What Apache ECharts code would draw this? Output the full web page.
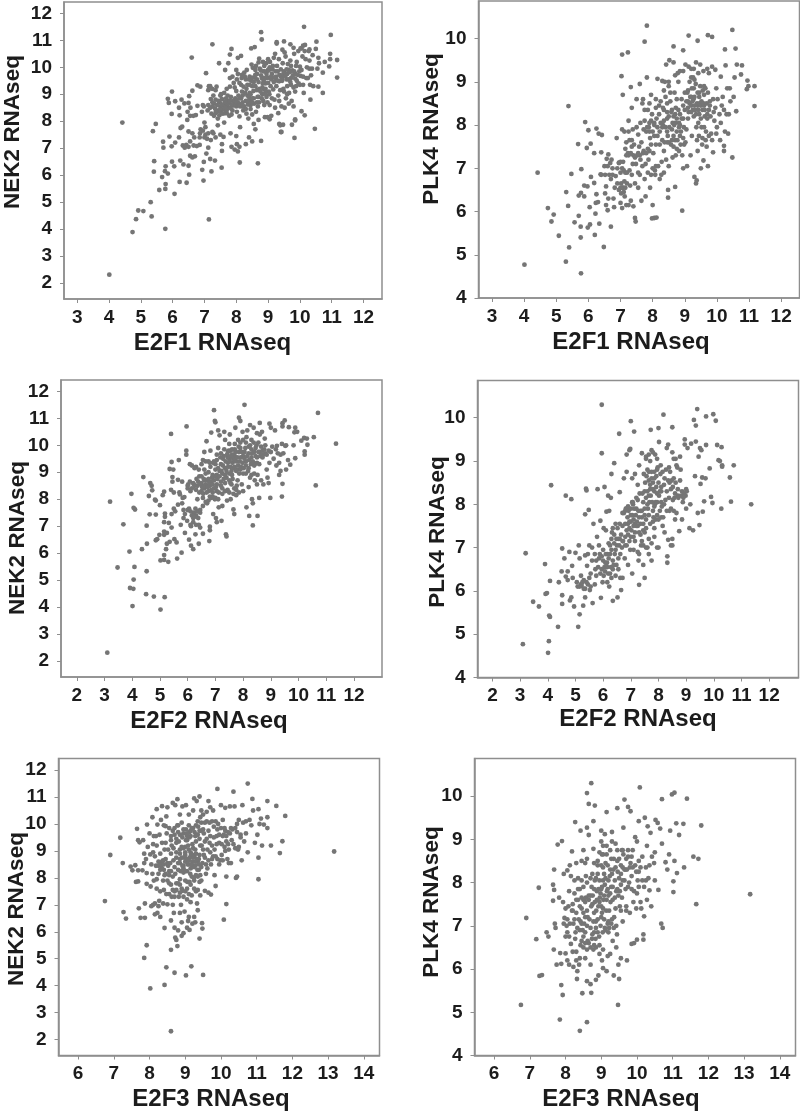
<!DOCTYPE html>
<html><head><meta charset="utf-8"><style>html,body{margin:0;padding:0;background:#fff}#c{width:800px;height:1113px}</style>
<script src="https://cdn.jsdelivr.net/npm/echarts@6/dist/echarts.min.js"></script></head><body><div id="c"></div>
<script>
const e2f1Nek2=[[4.01,2.31],[4.42,7.95],[4.74,3.89],[4.85,4.37],[4.92,4.69],[5.08,4.67],[5.34,4.47],[5.31,5],[5.77,4.01],[7.14,4.36],[5.58,5.45],[5.77,5.49],[5.78,5.67],[6.06,5.31],[5.38,7.63],[5.47,7.9],[5.42,6.52],[5.41,6.13],[5.67,5.93],[5.76,6.15],[5.85,6.06],[5.78,6.33],[5.98,6.5],[6.05,6.33],[6.22,5.75],[6.44,5.72],[6.52,6.02],[6.24,6.54],[6.34,6.4],[6.5,6.35],[6.93,6.2],[6.97,5.8],[7.22,6.14],[6.98,6.49],[7.54,6.28],[7.33,6.54],[7.18,6.6],[8.11,6.47],[8.68,6.44],[5.7,7.24],[5.71,7.02],[5.9,7.43],[5.97,7.07],[6.08,7.21],[5.85,8.83],[5.88,8.68],[5.98,9.1],[5.97,8.27],[6.08,8.74],[6.2,7.4],[6.2,8.5],[6.28,8.8],[6.37,8.66],[6.22,8.22],[6.25,7.75],[6.3,7.8],[6.32,7.1],[6.38,7.02],[6.43,7.12],[6.5,7.05],[6.46,8.05],[6.47,8.35],[6.5,8.68],[6.52,8.93],[6.56,8.5],[6.55,8.2],[6.5,7.62],[6.55,7.25],[6.55,6.72],[6.62,6.66],[6.7,6.7],[6.66,7.1],[6.62,7.55],[6.68,7.4],[6.65,8.2],[6.73,8.23],[6.78,8.57],[6.76,7.08],[6.85,7.12],[6.86,7.55],[6.88,7.7],[6.92,8.35],[6.95,8.6],[6.98,8.55],[7,7.95],[7.03,7.78],[7.03,7.5],[7.08,7.35],[7.12,7.02],[7.06,6.8],[7.12,9.15],[7.14,9.3],[7.18,9.3],[7.24,9.2],[7.12,8.6],[7.18,8.5],[7.22,8.28],[7.25,7.6],[7.28,7.55],[7.3,8.65],[7.35,8.8],[7.35,9.15],[7.38,9.28],[7.42,8.1],[7.42,7.85],[7.45,8.4],[7.48,8.7],[7.5,8.95],[7.52,9],[7.55,6.9],[7.55,7.15],[7.6,7.42],[7.62,7.95],[7.65,8.3],[7.66,8.6],[7.7,9.2],[7.75,8.75],[7.75,8.5],[7.78,8.2],[7.8,9.6],[7.82,7.55],[7.85,7.05],[7.95,6.95],[8,7.45],[8.02,7.15],[8.05,6.88],[8.1,7.05],[7.88,8.4],[7.9,8.75],[7.95,9.25],[8,8.55],[8.02,9.55],[8.05,8.62],[8.1,8.18],[8.12,7.78],[8.15,9.35],[8.18,9.1],[8.2,8.7],[8.22,8.4],[8.25,9.8],[8.3,7.15],[8.35,8.95],[8.38,8.1],[8.4,7.4],[8.42,9.65],[8.45,8.6],[8.5,9.3],[8.5,8.25],[8.5,7.25],[8.55,8.85],[8.6,9.9],[8.6,7.7],[8.62,10.05],[8.65,9.15],[8.68,8.55],[8.7,8.05],[8.72,10.32],[8.78,7.27],[8.8,9.6],[8.82,9],[8.85,8.75],[8.88,10.05],[8.9,8.15],[8.92,9.4],[8.95,8.9],[9,10.3],[9,9.9],[9.02,9.1],[9.05,8.6],[9.1,8.2],[9.12,9.75],[9.15,10.05],[9.18,9.45],[9.2,8.8],[9.22,10.5],[9.25,9.55],[9.3,9.85],[9.32,8.3],[9.35,8.75],[9.38,7.85],[9.4,9.65],[9.4,7.6],[9.45,10.65],[9.48,9.2],[9.5,9.85],[9.52,8.5],[9.55,10.4],[9.58,9.55],[9.6,9],[9.65,9.9],[9.65,8.65],[9.7,10.25],[9.72,9.35],[9.78,9.7],[9.8,8.55],[9.82,10.5],[9.85,9.1],[9.88,10.05],[9.9,9.5],[9.95,10.6],[9.98,9.85],[10,9.35],[10.05,10.7],[10.1,9.35],[10.12,9.05],[10.18,10.3],[10.2,9.6],[10.22,10],[10.28,10.6],[10.3,9.95],[10.35,9.7],[10.38,9.95],[10.4,10.45],[6.6,10.36],[7.25,10.85],[7.05,9.78],[6.62,9.13],[6.78,9.33],[6.87,9.28],[7.46,10.15],[7.85,10.68],[7.8,10.47],[7.75,10.15],[8.05,10.35],[8.15,10.42],[8,9.9],[7.65,9.9],[8.78,11.3],[8.8,11.03],[8.47,10.7],[8.58,10.75],[9.27,10.88],[9.27,10.93],[9.5,10.96],[9.7,10.85],[9.8,10.72],[10.02,10.7],[10.1,10.8],[10.13,11.5],[10.16,10.83],[10.52,10.95],[10.97,11.2],[10.5,10.68],[10.3,10.66],[10.95,10.5],[10.58,10.35],[10.6,10.15],[10.78,10.2],[10.95,10.3],[11.17,10.27],[10.92,10.03],[10.72,9.8],[10.55,9.95],[11.17,9.62],[10.42,9.3],[10.58,9.28],[10.72,9.05],[10.33,8.8],[10.47,7.72],[10.05,8.37],[10.15,8.22],[9.83,7.38],[9.75,7.87],[9.85,8.07],[9.85,8.03],[9.47,7.87],[9.35,7.9],[9.42,7.6],[9.05,8.07],[8.98,8.15],[8.55,7.9],[7.3,8.2],[7.4,8.35],[7.5,8.55],[7.6,8.62],[7.72,8.62],[7.82,8.48],[7.95,8.62],[8.05,8.7],[8.15,8.85],[8.32,9.2],[8.42,9.35],[8.55,9.45],[8.65,9.55],[8.72,9.2],[8.85,9.2],[8.92,9.08],[9.02,9.62],[9.1,9.55],[9.25,9.65],[9.35,9.48],[9.45,9.6],[9.6,9.75],[9.72,9.6],[9.85,9.75],[8.85,9.85],[8.95,9.75],[9.05,10],[7.25,8.7],[7.4,8.6],[7.6,8.45],[7.7,8.3],[8.3,8.75],[8.45,8.75],[8.7,8.9],[8.3,8.45],[8.45,9]];
const e2f1Nek2Core=[[7.1,8.4],[7.2,8.82],[7.28,8.95],[7.33,8.48],[7.36,8.38],[7.44,8.75],[7.47,8.22],[7.52,8.35],[7.55,8.82],[7.58,8.28],[7.62,9.05],[7.64,8.72],[7.68,8.85],[7.7,8.42],[7.73,8.95],[7.78,8.68],[7.8,9.28],[7.83,8.9],[7.85,8.25],[7.88,9.65],[7.9,8.58],[7.92,9.42],[7.97,8.85],[8,9.12],[8.02,8.35],[8.05,9.75],[8.07,8.95],[8.1,9.42],[8.12,8.55],[8.15,8.62],[8.18,9.72],[8.2,8.95],[8.23,9.28],[8.25,8.55],[8.28,9.05],[8.3,9.55],[8.32,8.28],[8.35,9.35],[8.37,8.62],[8.4,8.9],[8.42,9.05],[8.45,8.45],[8.47,9.5],[8.5,8.85],[8.52,9.98],[8.54,9.12],[8.56,8.65],[8.58,9.62],[8.6,9.3],[8.62,8.35],[8.65,9.75],[8.67,8.9],[8.7,9.45],[8.72,8.7],[8.74,9.95],[8.76,9.1],[8.78,9.7],[8.8,8.85],[8.82,9.25],[8.84,10.2],[8.86,9.5],[8.88,8.6],[8.9,9.85],[8.92,9.2],[8.94,10.15],[8.96,9.6],[8.98,8.7],[9,9.42],[9.02,9.88],[9.04,9],[9.06,10.2],[9.08,9.3],[9.1,9.65],[9.12,8.85],[9.14,9.92],[9.16,9.18],[9.18,10.35],[9.2,9.62],[9.22,8.5],[9.24,9.85],[9.26,9.3],[9.28,10.05],[9.3,9.5],[9.32,8.95],[9.34,10.3],[9.36,9.72],[9.38,9.15],[9.4,9.92],[9.42,8.55],[9.44,9.5],[9.46,10.15],[9.48,9.75],[9.5,9.1],[9.52,10.55],[9.54,9.68],[9.56,8.85],[9.58,9.92],[9.6,9.3],[9.62,10.12],[9.64,9.55],[9.66,9.05],[9.68,9.82],[9.7,9.45],[9.72,10.05],[9.74,8.75],[9.76,9.88],[9.8,9.25],[9.82,9.85],[9.85,9.58],[9.88,9.3],[9.9,10.2],[9.93,9.72],[9.96,9.4],[10,10.02],[10.02,9.68],[10.05,9.9],[10.08,10.4],[10.1,9.65],[10.15,10.6],[10.25,9.6],[10.3,10.25],[10.32,9.35],[8.1,8.85],[8.17,9.6],[8.27,9.65],[8.33,9.9],[8.4,9.55],[8.48,10.1],[8.52,9.62],[8.6,9.72],[8.7,10.18],[8.77,9.88],[8.83,9.4],[8.88,9.6],[8.9,9.02],[7.25,8.55],[7.35,8.3],[7.5,8.45],[7.55,8.6],[7.65,8.5],[7.8,8.75],[7.85,8.6],[8,8.75],[8.2,8.55],[8.35,8.75],[8.5,8.7],[8.65,8.7],[7.2,7.3],[7.35,7.4],[7.5,7.5],[7,7.4],[6.85,7.4],[6.95,7.65],[7.12,7.55]];
const e2f1Plk4=[[4.01,4.77],[4.42,6.9],[4.74,6.08],[4.85,5.77],[4.92,5.93],[5.08,5.44],[5.3,4.84],[5.31,6.45],[5.38,8.44],[5.37,6.13],[5.4,5.17],[5.47,6.87],[5.57,5.75],[5.68,7.56],[5.7,6.37],[5.7,5.9],[5.77,4.57],[5.76,5.4],[5.76,5.65],[5.77,6.43],[5.78,6.98],[5.87,6.35],[5.87,6.6],[5.9,8.07],[5.95,7.47],[5.97,6.58],[5.98,5.63],[6,7.88],[6.04,6.1],[6.05,5.7],[6.07,7.57],[6.08,6.8],[6.18,7.35],[6.18,6.66],[6.2,5.46],[6.22,5.95],[6.23,6.2],[6.25,7.92],[6.25,6.4],[6.3,6.22],[6.32,7.8],[6.34,5.72],[6.38,6.86],[6.42,7.77],[6.4,7.37],[6.48,5.18],[6.52,6.85],[6.52,6.42],[6.55,6.58],[6.55,6.15],[6.57,7.22],[6.6,6.03],[6.62,7.32],[6.62,6.3],[6.65,6.85],[6.7,5.65],[6.7,6.75],[6.72,7.2],[6.75,7],[6.78,6.3],[6.8,6.1],[6.82,6.55],[6.88,7.7],[6.95,7.13],[6.95,6.5],[7,6.9],[7,6.2],[7.02,6.65],[7.05,9.63],[7.03,9.13],[7.07,8.7],[7.05,6.08],[7.05,7.9],[7.08,6.55],[7.1,6.45],[7.12,6.7],[7.12,7.85],[7.15,6.9],[7.18,7.6],[7.18,6.15],[7.23,9.68],[7.23,7.35],[7.25,7.85],[7.25,8.1],[7.28,6.95],[7.3,6.6],[7.32,6.25],[7.32,8.88],[7.35,8.4],[7.35,7.5],[7.38,7.1],[7.4,6.12],[7.45,7.25],[7.45,5.85],[7.47,5.77],[7.5,8.6],[7.5,7.95],[7.55,6.9],[7.55,6.55],[7.58,7.5],[7.6,8.95],[7.62,7.2],[7.65,6.25],[7.68,8.5],[7.7,8.6],[7.7,7.35],[7.72,7.9],[7.75,9.93],[7.75,6.75],[7.78,7.1],[7.82,10.3],[7.82,9.1],[7.85,6.9],[7.85,8.35],[7.88,7.95],[7.9,7.4],[7.92,6.55],[7.95,8.7],[7.95,8.1],[7.95,7.55],[7.98,5.84],[8,6.15],[8,7],[8.05,5.85],[8.05,7.75],[8.08,6.85],[8.1,8.4],[8.1,7.05],[8.12,5.86],[8.15,9.07],[8.2,8.25],[8.22,6.75],[8.22,7.85],[8.25,8.55],[8.28,7.15],[8.3,9.02],[8.32,8],[8.35,6.9],[8.35,7.4],[8.38,9],[8.4,8.65],[8.42,9.4],[8.45,7.85],[8.45,8.15],[8.48,6.5],[8.48,6.32],[8.5,7.05],[8.5,8.9],[8.5,7.6],[8.52,9.5],[8.58,8.3],[8.6,7.9],[8.62,7.25],[8.65,9.45],[8.65,9.82],[8.68,8.75],[8.7,6.57],[8.7,7.65],[8.72,8.4],[8.75,7.45],[8.78,9.2],[8.8,9],[8.82,8.05],[8.85,7.75],[8.9,8.6],[8.92,6.02],[8.95,9.73],[8.95,7],[8.98,7.55],[9,8.35],[9.02,9.4],[9.05,7.9],[9.08,8.75],[9.12,10.07],[9.1,8.15],[9.15,8.5],[9.18,7.3],[9.2,9.1],[9.22,7.75],[9.25,8.35],[9.27,8.6],[9.3,6.8],[9.35,6.65],[9.35,9.45],[9.37,6.72],[9.38,7.65],[9.4,9.95],[9.4,8.45],[9.42,8.05],[9.45,8.75],[9.48,9.4],[9.5,7],[9.52,7.95],[9.55,8.35],[9.58,7.18],[9.6,8.9],[9.62,8.2],[9.68,7.5],[9.7,9.3],[9.72,10.08],[9.72,7.05],[9.78,8.55],[9.82,7.8],[9.85,10.04],[9.85,9.35],[9.88,7.37],[9.9,8.3],[9.95,9.28],[9.98,8.85],[10,7.95],[10.1,7.65],[10.12,9.12],[10.15,8.45],[10.22,7.4],[10.22,7.52],[10.25,9.75],[10.27,9.38],[10.3,8.25],[10.35,7.8],[10.4,8.85],[10.42,8.55],[10.48,7.25],[10.48,10.2],[10.52,8.65],[10.55,9.1],[10.58,9.77],[10.6,8.32],[10.62,9.4],[10.75,9.17],[10.78,9.38],[10.95,9.03],[10.93,8.83],[10.98,8.9],[11.17,8.9],[11.17,8.44],[8.35,8.35],[8.45,8.3],[8.55,8.55],[8.65,8.2],[8.75,8.15],[8.82,7.95],[8.88,7.85],[8.95,7.7],[8.3,7.95],[8.15,7.95],[8.05,8.05],[7.9,7.85],[7.8,7.85],[8.6,7.65],[8.75,7.85],[9.1,8.4],[9.2,8.45],[9.3,8.45],[9.35,8.25],[9.45,8.25],[9.5,8.45],[9.6,8.45],[9.7,8.25],[9.75,8.35],[9.28,8.85],[9.3,9.05],[9.2,8.65],[9.45,8.65],[9.6,8.7],[9.1,8.55],[9.55,7.7],[9.65,7.65],[9.4,7.4],[8.85,8.25],[8.95,8.15],[8.7,8.05],[8.45,7.6],[7.25,7.3],[7.4,7.3],[7.6,7.3],[7.55,7.35],[7.05,6.55],[7.15,6.55],[7.2,6.65],[7.05,7.0],[7.85,7.45],[8.65,7.75]];
const e2f1Plk4Core=[[6.4,6.85],[6.5,7.05],[6.6,7.05],[6.68,7.12],[6.75,6.85],[6.85,6.82],[6.9,6.65],[6.95,7.12],[7,6.55],[7.02,6.42],[7.08,7.15],[7.1,6.95],[7.13,6.35],[7.18,7.3],[7.2,6.9],[7.25,6.15],[7.28,7.65],[7.32,7.35],[7.35,6.85],[7.38,7.9],[7.42,7.55],[7.45,6.65],[7.48,7.1],[7.52,7.3],[7.55,7.78],[7.6,6.85],[7.62,8.05],[7.65,7.6],[7.68,7.05],[7.72,7.4],[7.75,8.1],[7.78,6.35],[7.8,7.35],[7.83,7.95],[7.87,7.2],[7.9,8.05],[7.92,7.7],[7.95,6.85],[7.98,8.25],[8,7.85],[8.02,7.35],[8.05,8],[8.07,6.95],[8.1,7.55],[8.12,8.15],[8.15,7.75],[8.17,7.05],[8.2,8.45],[8.22,7.55],[8.25,8.05],[8.27,6.85],[8.3,7.65],[8.32,8.4],[8.35,8.1],[8.37,7.6],[8.4,7.95],[8.42,7.2],[8.45,8.5],[8.47,7.75],[8.5,8.2],[8.52,7.95],[8.55,8.75],[8.57,7.55],[8.6,8.35],[8.62,8.05],[8.65,7.5],[8.67,8],[8.7,8.25],[8.72,7.3],[8.75,8.6],[8.77,7.65],[8.8,8.35],[8.82,7.4],[8.85,8],[8.87,7.55],[8.9,8.15],[8.92,7.3],[8.95,8.45],[8.97,7.95],[9,8.75],[9.02,7.6],[9.05,8.55],[9.07,7.05],[9.1,8.8],[9.12,8.3],[9.15,9],[9.17,8.65],[9.2,8.3],[9.22,8.85],[9.24,8.55],[9.26,9.1],[9.28,8.2],[9.3,8.65],[9.32,8.35],[9.34,8.95],[9.36,7.95],[9.38,8.5],[9.4,8.75],[9.42,8.35],[9.44,7.75],[9.46,8.5],[9.48,8.9],[9.5,8.15],[9.52,8.55],[9.54,7.55],[9.56,8.8],[9.58,8.5],[9.6,7.95],[9.62,8.35],[9.64,8.85],[9.66,7.85],[9.68,8.5],[9.7,8.15],[9.72,8.75],[9.75,7.75],[9.78,8.45],[9.8,8.2],[9.85,7.65],[9.88,8.6],[9.92,8.1],[9.95,8.4],[9.98,7.8],[10.02,8.6],[10.08,8.25],[10.12,8.05],[10.18,8.65],[10.22,8.35],[10.25,7.85],[10.32,8.85],[10.37,8.25],[9.12,9.35],[9.2,9.3],[9.28,9.3],[9.42,9.2],[9.58,9.25],[9.75,9.2],[8.95,9.25],[8.85,9.25],[8.7,9.15],[8.5,9],[8.35,8.8],[8.1,8.6],[7.9,8.5],[7.75,8.35],[7.35,7.65],[7.15,7.45],[7,7.15],[6.9,7.0]];
const e2f2Nek2=[[3.1,2.31],[3.2,7.91],[3.47,5.47],[3.68,7.07],[3.9,6.06],[3.92,4.71],[3.97,8.2],[4.01,4.04],[4.04,4.68],[4.05,5.02],[4.05,7.68],[4.08,5.49],[4.1,7.62],[4.35,6.15],[4.4,8.82],[4.5,4.48],[4.52,5.33],[4.52,7.02],[4.53,6.35],[4.6,8.12],[4.63,7.44],[4.65,8.6],[4.7,8.5],[4.72,8.33],[4.78,4.39],[4.82,7.98],[4.85,7.95],[4.85,7.43],[4.85,6.48],[4.9,6.52],[4.98,6.68],[5.02,3.91],[5.02,5.73],[5,7.78],[5.1,8.15],[5.15,8.28],[5.15,7.15],[5.15,6.8],[5.15,6.68],[5.15,5.75],[5.15,5.93],[5.17,4.37],[5.18,7.47],[5.18,7.35],[5.22,6.15],[5.25,6.75],[5.25,6.35],[5.3,5.68],[5.32,7.12],[5.35,6.42],[5.35,9.12],[5.4,8.35],[5.4,10.42],[5.42,9.38],[5.42,7.45],[5.42,6.95],[5.45,8.82],[5.45,8.65],[5.48,9.1],[5.5,7.65],[5.5,8.25],[5.52,6.52],[5.55,7.55],[5.6,6.4],[5.62,5.8],[5.65,7.8],[5.65,8.72],[5.68,9.45],[5.72,8.18],[5.75,7.05],[5.78,6.02],[5.8,8.65],[5.85,7.3],[5.88,8.08],[5.9,6.75],[5.95,9.8],[5.95,9.65],[5.96,10.7],[5.98,7.2],[6,7.6],[6.02,8.55],[6.05,6.5],[6.08,9.3],[6.1,8.3],[6.12,7],[6.12,6.28],[6.15,9.25],[6.2,6.15],[6.22,7.5],[6.25,8.5],[6.28,7.65],[6.28,6.7],[6.3,9.2],[6.35,8],[6.38,7.3],[6.4,6.35],[6.42,8.85],[6.45,7.5],[6.45,6.95],[6.5,8.3],[6.55,6.72],[6.55,9.45],[6.6,9.75],[6.62,8.7],[6.68,10.15],[6.7,7.85],[6.75,9.4],[6.78,6.45],[6.8,6.98],[6.8,6.85],[6.82,9.8],[6.85,10.47],[6.9,8.25],[6.92,7.45],[6.95,11.3],[6.98,10.9],[7,10.85],[7,9.1],[7.02,7.3],[7.05,7.15],[7.05,8.55],[7.1,10.55],[7.1,9.9],[7.12,7.7],[7.15,10.37],[7.2,9.3],[7.22,7.2],[7.25,8.2],[7.28,9.5],[7.32,10.5],[7.35,10.2],[7.38,6.7],[7.4,6.62],[7.4,8.8],[7.42,7.95],[7.45,9.75],[7.5,10.05],[7.52,10.4],[7.58,8.55],[7.62,9.35],[7.65,7.62],[7.68,7.45],[7.7,9.85],[7.72,10.65],[7.75,8.15],[7.8,9.1],[7.82,10.2],[7.85,11.02],[7.9,10.9],[7.92,9.55],[7.95,8.55],[7.98,10.5],[8.05,11.5],[8.1,8.95],[8.12,7.7],[8.15,10.55],[8.2,8.45],[8.22,7.38],[8.25,10.75],[8.3,9.85],[8.32,8],[8.35,7.03],[8.35,7.85],[8.38,10.65],[8.42,9.3],[8.5,10.45],[8.5,8.55],[8.52,7.38],[8.58,8.05],[8.6,10.83],[8.65,8.7],[8.68,10.5],[8.72,9.65],[8.78,10.25],[8.85,9.1],[8.92,8.6],[8.95,10.8],[8.98,8.05],[9,10.65],[9.15,10.55],[9.2,9.25],[9.22,9.98],[9.3,8.9],[9.35,9.65],[9.42,10.7],[9.42,10.82],[9.4,8.1],[9.42,8.57],[9.5,10.92],[9.52,9.98],[9.55,9.1],[9.62,9.45],[9.65,10.67],[9.7,9.28],[9.82,10],[9.85,10.48],[9.88,10.65],[9.88,9.52],[9.95,10.5],[10.1,10.17],[10.2,10.27],[10.22,9.65],[10.22,9.77],[10.32,10.02],[10.3,10.25],[10.55,10.3],[10.62,8.51],[10.7,11.2],[11.35,10.06],[6.5,8.6],[6.6,8.4],[6.65,8.55],[6.7,8.7],[6.75,8.3],[6.8,8.5],[6.85,8.65],[6.95,8.4],[6.6,9.1],[6.75,9],[6.9,8.9],[7,9.3],[7.05,8.9],[7.15,9.05],[7.25,8.95],[7.35,9.15],[7.45,9.35],[7.5,9.5],[7.55,9.2],[7.6,9.65],[7.7,9.6],[7.75,9.4],[7.85,9.75],[7.9,9.9],[8,9.6],[8.05,9.75],[8.1,9.4],[8.2,9.7],[8.3,9.55],[8.4,9.75],[8.5,9.35],[8.6,9.75],[8.7,9.8],[8.8,9.7],[8.4,8.95],[8.2,9.15],[7.9,9.1],[7.7,9.2],[7.5,8.7],[7.35,8.6],[7.2,8.5],[7.05,8.3],[6.9,8.1],[6.75,7.95],[6.55,8.05],[6.35,8.5],[6.2,8.6],[6,8.4],[7.6,8.9],[7.8,8.7],[8,8.95],[8.25,8.8],[7.3,9.6],[7.45,9.55],[7.55,9.8],[7.7,10.05],[8.1,10.1],[8.3,10.2],[8.55,10.1],[8.45,9.9],[6.2,7.3],[6.1,7.05],[6.3,7.4],[5.85,7.6],[6.4,7.05]];
const e2f2Nek2Core=[[6,8.5],[6.08,8.65],[6.15,8.4],[6.22,8.55],[6.3,8.35],[6.32,8.75],[6.38,8.65],[6.42,8.25],[6.46,8.55],[6.5,8.85],[6.52,8.45],[6.56,8.2],[6.58,8.75],[6.62,8.5],[6.65,8.95],[6.68,8.25],[6.72,8.45],[6.75,8.75],[6.78,8.6],[6.8,8.1],[6.82,9.2],[6.85,8.35],[6.88,8.8],[6.9,8.55],[6.92,9.35],[6.95,8.7],[6.98,8],[7,8.85],[7.02,8.45],[7.05,9.45],[7.07,8.75],[7.1,9.15],[7.12,8.25],[7.15,8.85],[7.18,9.55],[7.2,8.65],[7.22,9.05],[7.25,8.4],[7.27,9.25],[7.3,8.75],[7.32,9.85],[7.35,8.9],[7.37,9.4],[7.4,9.05],[7.42,9.65],[7.44,8.35],[7.46,9.2],[7.48,9.8],[7.5,8.95],[7.52,9.4],[7.54,8.6],[7.56,9.6],[7.58,9.05],[7.6,9.85],[7.62,8.75],[7.64,9.5],[7.66,9.15],[7.68,8.4],[7.7,9.45],[7.72,9.75],[7.75,9.05],[7.77,8.5],[7.8,9.55],[7.82,9.25],[7.84,9.95],[7.86,8.95],[7.88,9.4],[7.9,10.1],[7.92,9.2],[7.95,9.75],[7.98,9.35],[8,10.2],[8.02,9.15],[8.05,9.5],[8.08,9.9],[8.1,9.25],[8.12,10.3],[8.15,9.6],[8.18,9.05],[8.2,9.95],[8.22,9.45],[8.25,10],[8.28,9.3],[8.3,8.9],[8.32,9.7],[8.35,9.4],[8.38,10.1],[8.4,9.25],[8.42,8.7],[8.45,9.6],[8.48,10],[8.5,9.55],[8.52,8.9],[8.55,9.75],[8.58,9.3],[8.6,10.4],[8.62,9.6],[8.65,9.95],[8.7,9.55],[8.73,8.55],[8.76,9.85],[8.8,10],[8.85,9.65],[8.88,8.8],[8.92,9.8],[8.95,9.35],[9,9.75],[9.05,9.95],[9.1,9.5],[9.18,9.85],[9.25,9.7],[9.3,9.35],[9.35,9.05],[9.4,10.05],[9.45,9.7],[9.55,10],[5.8,7.85],[5.9,7.45],[6.05,7.65],[6.15,7.4],[6.2,7.15],[6.3,7.05],[6.35,7.55],[6.25,7.35],[6.45,7.6],[6.1,7.55],[6.55,7.75],[6.65,7.9],[6.85,8.05],[7,8.05],[7.1,8],[7.25,7.75],[7.35,8.3],[7.5,8.25],[7.55,8],[7.65,8.2],[7.75,8.35],[7.85,8.25],[8,8.3],[5.7,8.25],[5.82,8.05],[6.25,9.15],[6.4,9.1],[6.5,9.3],[6.65,9.4],[6.8,9.35],[6.95,9.4],[7.05,9.65],[7.2,9.7]];
const e2f2Plk4=[[3.1,4.77],[3.2,6.87],[3.47,5.75],[3.68,5.64],[3.9,6.62],[3.92,5.93],[3.97,5.95],[4.01,4.57],[4.04,4.84],[4.05,5.43],[4.08,5.4],[4.08,6.23],[4.12,8.44],[4.37,5.17],[4.4,6.2],[4.5,6.45],[4.52,6.98],[4.52,5.9],[4.52,5.7],[4.6,6.75],[4.65,8.2],[4.65,6.33],[4.72,6.25],[4.72,6.45],[4.78,6.9],[4.8,5.78],[4.85,5.85],[4.85,8.12],[4.88,6.58],[4.9,6.3],[4.95,5.64],[5,6.88],[5.05,6.2],[5.08,6.1],[5.1,5.17],[5.12,7.05],[5.15,6.75],[5.15,5.46],[5.2,6.35],[5.22,6.12],[5.28,5.66],[5.3,6.05],[5.35,6.82],[5.35,5.85],[5.35,7.77],[5.38,8.36],[5.4,8.32],[5.42,6.58],[5.45,6.15],[5.48,7.87],[5.5,7.05],[5.52,6.02],[5.55,6.4],[5.6,7],[5.62,5.72],[5.65,7.55],[5.7,6.85],[5.72,6.5],[5.78,7.25],[5.8,8.35],[5.85,7.05],[5.9,7.62],[5.9,6.4],[5.92,5.84],[5.95,9.18],[5.95,10.3],[5.98,6.2],[6,6.95],[6.02,7.45],[6.05,8.4],[6.08,6.65],[6.12,7.83],[6.15,6.85],[6.18,8.2],[6.2,7.1],[6.22,7.85],[6.22,6.1],[6.25,6.4],[6.28,8.15],[6.3,8.7],[6.32,7.35],[6.35,5.77],[6.35,6.7],[6.4,8.95],[6.45,7.55],[6.48,6.6],[6.52,5.85],[6.55,7.2],[6.58,9.63],[6.6,8.28],[6.62,6.3],[6.65,6.02],[6.7,7.8],[6.7,6.3],[6.75,8.6],[6.8,7.05],[6.85,9.15],[6.85,8.75],[6.85,7.9],[6.9,6.6],[6.95,9.25],[6.98,9.28],[7,9.92],[7,7.6],[7.05,8.6],[7.05,6.4],[7.08,8.0],[7.1,6.95],[7.12,9.68],[7.15,8.7],[7.2,7.5],[7.25,8.45],[7.28,6.7],[7.3,6.14],[7.3,8.9],[7.35,7.85],[7.4,9.18],[7.45,8.05],[7.45,6.6],[7.5,7.35],[7.5,6.3],[7.55,9.1],[7.6,8.8],[7.6,7.0],[7.65,6.85],[7.7,8.35],[7.72,9.72],[7.75,9.25],[7.75,6.7],[7.8,7.85],[7.85,7.45],[7.88,9.15],[7.9,8.05],[7.92,8.65],[7.95,7],[8,7],[8,9.76],[8.02,9.44],[8.05,8.3],[8.08,8.9],[8.1,7.7],[8.15,7.5],[8.18,10.07],[8.22,8.6],[8.3,9.3],[8.32,6.8],[8.32,6.65],[8.35,9.38],[8.35,7.18],[8.38,8.85],[8.4,7.85],[8.45,7.05],[8.5,7.05],[8.5,7.2],[8.5,9.2],[8.5,9.78],[8.52,8.1],[8.55,8.6],[8.6,7.65],[8.62,9.05],[8.7,8.35],[8.75,7.38],[8.78,9.1],[8.85,7.65],[8.9,8.15],[8.95,9.38],[8.95,9.5],[9,8.35],[9,7.9],[9.05,9.3],[9.12,7.45],[9.15,8],[9.18,9.4],[9.25,7.4],[9.28,9.95],[9.32,8.65],[9.35,9.82],[9.35,9.45],[9.4,10.2],[9.42,7.8],[9.45,9.1],[9.48,7.52],[9.5,9.3],[9.52,8.47],[9.55,9.25],[9.58,8.62],[9.6,7.83],[9.65,8.07],[9.7,8.6],[9.72,9.37],[9.72,10.03],[9.85,8.83],[9.9,8.17],[9.95,8.03],[9.98,10.08],[10.07,9.93],[10.12,9.37],[10.17,9.02],[10.22,9],[10.27,7.9],[10.28,9.32],[10.3,8.9],[10.3,8.87],[10.58,8.62],[10.62,8.06],[10.72,8.9],[11.35,8],[6.3,7.2],[6.4,7.1],[6.5,7.05],[6.6,7.2],[6.7,7.15],[6.8,7.25],[6.85,7.4],[6.95,7.6],[7,7.75],[7.1,7.65],[7.15,7.55],[7.25,7.5],[7.3,7.7],[7.4,7.85],[7.45,7.55],[7.5,8.3],[7.55,8.15],[7.65,8.2],[7.7,8.45],[7.8,8.5],[7.85,8.3],[7.95,8.25],[8,8.5],[8.1,8.05],[8.2,8],[7.6,8.0],[7.35,7.3],[7.1,7.25],[6.95,7.15],[6.8,7.85],[6.9,7.95],[5.95,6.8],[6.05,6.55],[6.15,6.55],[6.25,6.85],[6.35,6.5],[5.75,6.7],[5.85,6.75],[6.1,7.4],[7.65,7.75],[7.8,7.6],[7.95,7.75],[8.1,8.3],[8.3,8.3],[8.4,8.5],[8.45,8.35],[8.6,8.25],[8.7,8.2],[8.85,8.3],[8.65,8.9],[8.8,8.8],[8.55,9.05],[7.95,8.8],[7.85,8.75],[7.75,8.75],[7.65,8.55],[5.2,6.15],[5.35,6.05],[5.4,6.2],[5.25,6.2],[5.5,6.3],[6.9,7.55],[7.2,7.9],[7.05,8.05],[7.25,8.1],[7.55,7.65],[7.5,7.75]];
const e2f2Plk4Core=[[5.75,6.35],[5.82,6.55],[5.88,6.85],[5.95,6.5],[6,6.7],[6.02,6.35],[6.07,6.45],[6.1,6.85],[6.14,6.65],[6.18,6.4],[6.2,6.75],[6.25,7.05],[6.28,6.55],[6.3,6.95],[6.35,7.45],[6.38,6.6],[6.4,7.3],[6.42,6.85],[6.45,6.95],[6.48,7.2],[6.52,7.45],[6.55,6.75],[6.58,7.05],[6.6,7.55],[6.62,6.85],[6.65,7.3],[6.68,7],[6.7,7.5],[6.72,7.15],[6.75,7.8],[6.78,6.75],[6.8,7.55],[6.82,7.9],[6.85,7.05],[6.88,7.7],[6.9,7.3],[6.92,7.85],[6.95,7.45],[6.98,6.95],[7,7.9],[7.02,7.4],[7.05,7.75],[7.07,8.05],[7.1,7.5],[7.12,7.9],[7.15,7.35],[7.18,7.75],[7.2,8.15],[7.22,7.6],[7.25,6.9],[7.27,7.85],[7.3,7.35],[7.32,8.25],[7.35,7.55],[7.37,7.05],[7.4,7.7],[7.42,8.25],[7.45,7.4],[7.47,8.7],[7.5,7.9],[7.52,8.5],[7.55,7.45],[7.57,8.65],[7.6,8.3],[7.62,7.9],[7.65,8.75],[7.67,8.05],[7.7,7.55],[7.72,8.2],[7.75,8.6],[7.77,8.05],[7.8,8.35],[7.82,7.7],[7.85,8.6],[7.87,8],[7.9,7.65],[7.92,8.4],[7.95,8.05],[7.97,8.85],[8,7.65],[8.02,8.2],[8.05,7.85],[8.07,8.7],[8.1,8.4],[8.12,7.95],[8.15,8.75],[8.17,7.7],[8.2,8.45],[8.22,7.35],[8.25,8.1],[8.27,8.8],[8.3,7.85],[8.35,8.55],[8.38,8.15],[8.42,8.75],[8.45,7.9],[8.48,8.55],[8.52,8.4],[8.55,7.85],[8.58,8.15],[8.62,8.5],[8.65,7.8],[8.68,8.85],[8.72,8.15],[8.78,8.55],[8.82,8.2],[8.88,8.05],[8.92,8.25],[8.98,8.2],[9.02,8.3],[7.4,7.15],[7.55,7],[7.15,7.15],[7,7.25],[7.3,6.85],[7.45,7.05],[7.65,7.2],[7.75,7.1],[7.85,7.25],[6.3,6.3],[6.45,6.35],[6.55,6.5],[6.15,6.2],[5.6,6.7],[5.45,6.85],[5.7,6.15],[5.55,6.1],[5.3,6.25],[5.15,6.1],[7.55,9.05],[7.65,9.15],[7.8,9.2],[7.95,9.05],[7.7,9],[7.85,7.95]];
const e2f3Nek2=[[6.75,7.14],[6.9,8.85],[7.18,9.49],[7.25,8.55],[7.27,6.73],[7.34,6.49],[7.47,8.42],[7.52,8.28],[7.6,8.47],[7.62,7.85],[7.65,9.82],[7.68,7.87],[7.68,8.28],[7.68,9.4],[7.7,6.87],[7.72,9.32],[7.75,6.52],[7.8,8.28],[7.82,9.4],[7.85,8.9],[7.85,5.03],[7.85,8.55],[7.87,7.05],[7.87,6.52],[7.9,8.7],[7.92,5.5],[7.92,8.18],[7.92,7.78],[7.93,9.98],[7.95,9.15],[8,9.65],[8.02,8.87],[8.02,3.9],[8.03,7.68],[8.05,6.95],[8.08,10.25],[8.08,8.15],[8.1,7],[8.1,9.25],[8.12,7.9],[8.15,6.65],[8.18,9.55],[8.18,8.45],[8.2,7.6],[8.22,6.7],[8.22,9.98],[8.2,10.55],[8.27,7.15],[8.3,8.3],[8.3,6.55],[8.3,8.9],[8.32,10.15],[8.35,10.66],[8.38,7.05],[8.38,7.9],[8.42,6.14],[8.42,9.05],[8.42,4.03],[8.45,9.92],[8.47,4.68],[8.47,7.4],[8.47,10.28],[8.5,7.02],[8.5,10.62],[8.52,8.45],[8.55,7.8],[8.55,8.1],[8.6,2.31],[8.6,5.33],[8.6,6.42],[8.6,9.55],[8.62,7.3],[8.65,10.78],[8.67,9.1],[8.68,6.7],[8.7,4.48],[8.7,6.15],[8.72,5.78],[8.72,10.7],[8.75,5.7],[8.75,7.8],[8.78,10.92],[8.78,5.47],[8.8,6.05],[8.8,9.7],[8.82,7.3],[8.85,8.55],[8.85,10.35],[8.88,7],[8.9,6.35],[8.9,5.85],[8.92,7.52],[8.92,10.65],[8.95,5.95],[8.95,8.2],[8.98,6.75],[9,9.15],[9.02,4.38],[9.02,10.7],[9.05,6.15],[9.05,7.6],[9.07,8.5],[9.08,6.4],[9.1,10.35],[9.12,9.7],[9.12,6.07],[9.15,7.1],[9.17,4.72],[9.18,8.05],[9.2,6.3],[9.22,10.5],[9.25,8.85],[9.25,10.95],[9.28,6.35],[9.3,9.35],[9.3,7.5],[9.32,10.85],[9.33,7.05],[9.35,6.8],[9.38,8.3],[9.4,11.02],[9.4,5.75],[9.42,7.35],[9.45,10.5],[9.47,6.32],[9.48,6.12],[9.5,4.4],[9.52,9.65],[9.55,7.52],[9.58,8.15],[9.6,10.45],[9.65,7.45],[9.65,10.85],[9.68,9.3],[9.7,10.62],[9.72,7.38],[9.75,8.7],[9.78,10.5],[9.82,8.1],[9.85,7.7],[9.88,9.55],[9.9,11.3],[9.95,8.5],[10,10.7],[10.05,10.15],[10.08,6.45],[10.1,9.15],[10.12,10.6],[10.15,8.05],[10.15,7.03],[10.2,9.7],[10.22,8.55],[10.25,10.65],[10.3,9.4],[10.35,11.2],[10.38,10.65],[10.42,8],[10.45,8.05],[10.48,9.05],[10.5,10.15],[10.58,8.65],[10.6,10.7],[10.65,9.35],[10.7,10.1],[10.75,8.95],[10.75,11.5],[10.8,10.15],[10.85,9.95],[10.88,10.93],[10.9,10.5],[10.95,9.3],[11.02,9.6],[11.05,7.95],[11.05,8.75],[11.05,10.55],[11.08,10],[11.12,10.2],[11.15,9.2],[11.2,9.98],[11.3,10.85],[11.3,10.25],[11.3,9.85],[11.4,9.2],[11.55,10.67],[11.65,8.92],[11.72,9.36],[11.8,10.3],[13.17,8.98],[8.6,8.9],[8.7,8.4],[8.75,9.3],[8.8,8.3],[8.85,9.05],[8.9,8.75],[8.92,9.5],[8.95,8.45],[9,8.85],[9,8.6],[9.02,9.8],[9.05,8.25],[9.1,9.05],[9.12,8.75],[9.15,8.35],[9.15,9.55],[9.2,9.25],[9.2,8.6],[9.22,9.85],[9.25,8.4],[9.28,9.05],[9.3,9.95],[9.3,8.1],[9.35,8.6],[9.35,9.6],[9.4,8.85],[9.42,9.2],[9.45,10.05],[9.45,8.4],[9.5,9.05],[9.5,9.8],[9.55,8.75],[9.6,9.45],[9.62,8.35],[9.65,9.75],[9.7,8.95],[9.75,10.1],[9.8,9.5],[9.85,8.8],[9.9,9.8],[9.95,9.3],[10.02,8.85],[10.05,9.55],[10.12,9.75],[10.15,9.35],[10.22,9.05],[10.28,9.85],[10.4,9.1],[10.45,9.7],[10.55,9.5],[8.15,8.8],[8.25,8.45],[8.35,8.6],[8.4,8.3],[8.45,8.7],[8.55,8.25],[8.6,9.4],[8.65,9.75],[8.7,9.85],[8.8,9.95],[8.9,10.05],[8.55,7.4],[8.7,7.5],[8.85,7.75],[9,7.9],[9.15,7.75],[9.25,7.9],[9.35,8.05],[9.45,7.9],[9.05,9.4],[9.1,9.95],[8.95,9.65],[8.75,8.75],[8.85,8.9],[8.95,8.35],[9.25,8.8],[9.15,8.95]];
const e2f3Nek2Core=[[8.05,8.5],[8.1,8.95],[8.12,9.55],[8.2,9.2],[8.25,8.15],[8.28,9.6],[8.32,8.45],[8.35,9.3],[8.38,8.65],[8.4,9.95],[8.42,8.1],[8.45,9.3],[8.48,9.65],[8.5,8.55],[8.52,9.05],[8.55,9.85],[8.58,8.55],[8.6,8.25],[8.62,9.2],[8.65,8.05],[8.67,8.65],[8.7,9.6],[8.72,8.15],[8.75,8.95],[8.78,9.95],[8.8,8.55],[8.82,9.35],[8.85,7.95],[8.87,8.25],[8.9,9.15],[8.92,8.45],[8.95,9.8],[8.97,8.75],[9,8.25],[9.02,9.4],[9.04,8.7],[9.06,7.85],[9.08,9.2],[9.1,8.5],[9.12,9.5],[9.14,8.15],[9.16,8.85],[9.18,9.85],[9.2,8.4],[9.22,9.1],[9.24,8],[9.26,9.7],[9.28,8.6],[9.3,8.9],[9.32,9.6],[9.34,8.3],[9.36,9.9],[9.38,8.7],[9.4,9.45],[9.42,8.1],[9.44,9.75],[9.46,9.2],[9.48,8.55],[9.5,10.35],[9.52,8.85],[9.55,9.35],[9.58,8.5],[9.6,10.1],[9.62,9.05],[9.65,8.65],[9.68,10.05],[9.7,9.55],[9.72,8.5],[9.75,9.2],[9.78,8.8],[9.8,9.9],[9.82,9.05],[9.85,10.1],[9.88,9.25],[9.9,8.7],[9.92,10],[9.95,9.6],[9.98,8.65],[10,9.85],[10.02,9.25],[10.05,8.65],[10.08,9.6],[10.1,9.85],[10.12,9],[10.15,9.55],[10.18,8.7],[10.2,9.25],[10.25,9.65],[10.28,8.55],[10.32,9.8],[10.35,9.25],[10.4,9.85],[10.45,10],[10.5,9.15],[10.55,9.6],[10.62,10.05],[10.7,9.65],[8.25,8.6],[8.3,8.5],[8.35,8.35],[8.4,8.5],[8.45,8.15],[8.5,7.9],[8.6,7.75],[8.65,7.55],[8.7,7.3],[8.75,7.55],[8.8,7.8],[8.85,7.45],[8.9,7.6],[8.95,7.3],[9,7.5],[9.05,7.2],[9.1,7.4],[9.12,7.85],[9.18,7.35],[9.25,7.6],[9.35,7.55],[9.4,7.85],[9.25,6.55],[9.1,6.55],[8.85,6.7],[8.65,7],[8.4,7.55],[8.3,7.5],[8.2,7.95],[8.15,7.05],[8.25,6.95],[8.75,9.45],[8.85,9.6],[9.05,9.65],[9.15,9.75],[9.28,9.55],[9.35,10.1],[9.4,9.75],[9.42,10.25],[9.55,10.05],[9.05,9.55],[8.95,9.1],[8.85,8.7],[9,8.95],[9.1,8.65],[9.18,8.5],[9.22,8.75],[9.28,8.45],[9.32,8.7],[9.38,8.5]];
const e2f3Plk4=[[6.75,5.17],[6.9,7.18],[7.18,6.69],[7.25,7.88],[7.27,5.84],[7.34,5.86],[7.47,6.85],[7.52,6.75],[7.65,7.58],[7.65,7.95],[7.67,6.45],[7.68,7.83],[7.68,8.3],[7.7,7.05],[7.72,6.95],[7.75,6.1],[7.78,8.88],[7.82,7.65],[7.84,4.83],[7.85,6.37],[7.88,6.12],[7.88,5.63],[7.9,8.96],[7.92,5.4],[7.93,7.55],[7.95,8.2],[7.97,7.18],[8,6.75],[8,6.36],[8.03,7],[8.05,8.28],[8.05,6.2],[8.08,7.45],[8.1,6.1],[8.12,8.4],[8.15,6.58],[8.15,8.15],[8.18,7.35],[8.18,8.72],[8.22,6.05],[8.25,7.15],[8.25,7.75],[8.27,9.4],[8.28,6.85],[8.3,8.45],[8.3,6.4],[8.32,5.77],[8.33,5.95],[8.35,8.1],[8.38,6.1],[8.4,4.57],[8.4,7.85],[8.42,9.2],[8.42,6.55],[8.45,8.5],[8.45,7.05],[8.47,5.44],[8.5,8.75],[8.52,7.6],[8.55,6.25],[8.57,8.15],[8.6,8.55],[8.6,10.07],[8.6,4.77],[8.6,9.27],[8.6,5.72],[8.62,7.2],[8.65,9.82],[8.65,9.1],[8.7,6.1],[8.7,5.65],[8.72,10.3],[8.72,5.45],[8.73,7.9],[8.78,9.42],[8.78,6.45],[8.78,8.78],[8.82,9.78],[8.85,6.95],[8.85,5.75],[8.9,8.4],[8.92,5.85],[8.95,6.35],[9,9.2],[9,7.45],[9,8.95],[9.02,6.2],[9.05,8.65],[9.05,6.02],[9.1,9.12],[9.15,9.63],[9.15,5.95],[9.18,6.3],[9.2,7.1],[9.25,6.35],[9.28,8.55],[9.3,9.17],[9.32,6.65],[9.35,5.85],[9.4,8.9],[9.42,6.5],[9.45,9.72],[9.47,5.17],[9.48,6.1],[9.5,5.77],[9.52,7.8],[9.55,8.2],[9.55,6.25],[9.58,8.75],[9.62,9.27],[9.65,9.92],[9.68,8.3],[9.7,7.45],[9.72,6.2],[9.75,9.75],[9.8,7.3],[9.82,9.65],[9.85,6.58],[9.88,8.75],[9.92,6.6],[9.95,9.05],[9.98,7.4],[10,6.68],[10,8.95],[10.05,8.5],[10.05,9.42],[10.08,10.2],[10.12,7.4],[10.15,8.05],[10.18,6.68],[10.18,6.8],[10.2,7.22],[10.22,9.5],[10.28,8.85],[10.3,9.3],[10.35,7.82],[10.38,9.15],[10.4,7.45],[10.42,8.6],[10.48,8.45],[10.52,9.45],[10.58,9.38],[10.6,7.83],[10.65,9.25],[10.68,7.05],[10.72,6.95],[10.7,8.9],[10.7,9.93],[10.8,8.47],[10.85,8.3],[10.9,8.65],[10.93,9.2],[10.98,10.04],[11.02,8.03],[11.02,7.78],[11.05,10.08],[11.05,8.5],[11.1,9.37],[11.12,8.22],[11.18,9.1],[11.3,9.36],[11.32,8.35],[11.4,9.94],[11.58,8.6],[11.66,7.5],[11.72,8.55],[11.8,9.32],[13.17,7.73],[8.7,7.7],[8.75,7.5],[8.8,7.3],[8.82,8.05],[8.85,7.1],[8.88,7.6],[8.9,6.85],[8.92,7.85],[8.95,7.55],[8.98,7.75],[9,7.2],[9.02,7.9],[9.05,7.4],[9.08,7.7],[9.1,6.95],[9.12,8.1],[9.15,7.6],[9.18,7.85],[9.2,6.85],[9.22,7.35],[9.25,7.75],[9.28,7.05],[9.3,8.2],[9.32,7.9],[9.35,6.95],[9.38,7.65],[9.4,8.35],[9.42,7],[9.45,7.85],[9.5,8.1],[9.55,7.95],[9.6,8.35],[9.65,8.05],[9.7,8.55],[9.75,7.9],[9.8,8.35],[9.85,8.15],[9.92,7.8],[9.98,8.25],[10.02,8.05],[10.1,8.35],[10.15,8.6],[8.2,7.5],[8.3,7.3],[8.35,7.6],[8.4,6.9],[8.45,7.4],[8.5,6.75],[8.55,7.55],[8.6,7],[8.65,6.6],[8.7,8.1],[8.75,6.8],[8.8,8.45],[8.85,6.5],[8.9,8.2],[8.5,7.9],[8.6,8.0],[8.55,8.45],[8.45,8.05],[9.25,8.3],[9.35,8.55],[9.45,8.5],[9.15,8.65],[9.05,8.35],[9.05,8.05],[9.2,8.05],[9.55,7.35],[9.6,7.1],[9.7,7.35],[10.5,8.05],[10.5,8.7],[10.25,8.05],[10.35,8.4]];
const e2f3Plk4Core=[[8.12,7.05],[8.2,7.35],[8.22,7.05],[8.27,6.7],[8.3,7.6],[8.33,6.95],[8.37,7.15],[8.4,7.45],[8.42,7.1],[8.45,7.65],[8.48,6.9],[8.5,7.3],[8.52,7.05],[8.55,6.85],[8.57,7.65],[8.6,7.35],[8.62,6.65],[8.65,7.6],[8.67,7.15],[8.7,6.95],[8.72,7.45],[8.74,6.7],[8.76,7.7],[8.78,7.1],[8.8,6.85],[8.82,7.55],[8.84,6.7],[8.86,7.35],[8.88,7.8],[8.9,7.15],[8.92,7.45],[8.94,6.75],[8.96,7.65],[8.98,7],[9,7.85],[9.02,7.3],[9.04,6.85],[9.06,7.6],[9.08,7.15],[9.1,7.95],[9.12,6.9],[9.14,7.35],[9.16,7.8],[9.18,7.05],[9.2,7.7],[9.22,6.95],[9.24,8.15],[9.26,7.55],[9.28,7.9],[9.3,7.15],[9.32,7.6],[9.34,8.3],[9.36,7.2],[9.38,8.05],[9.4,7.4],[9.42,7.8],[9.44,6.8],[9.46,8.25],[9.48,7.7],[9.5,8.55],[9.52,7.45],[9.55,8.4],[9.58,7.65],[9.6,8.05],[9.62,8.65],[9.65,8.3],[9.68,7.85],[9.72,8.3],[9.75,8.6],[9.78,8],[9.82,8.45],[9.85,7.85],[9.88,8.35],[9.9,7.55],[9.95,8.4],[10,7.75],[10.05,8.25],[10.05,7.9],[10.1,7.55],[10.2,7.9],[10.25,8.35],[10.28,7.6],[10.32,8.1],[8.55,7.2],[8.65,7.7],[8.75,8.2],[8.8,7.85],[8.85,8.1],[8.9,8.5],[8.95,8.05],[9,8.4],[9.02,8.65],[9.08,8.2],[9.12,8.45],[9.18,8.4],[8.95,8.7],[9.05,8.85],[9.15,8.85],[9.25,8.75],[9.3,8.95],[9.45,8.75],[9.6,8.75],[9.75,8.75],[9.85,8.6],[8.25,8.05],[8.1,7.8],[8.35,7.85],[8.5,7.6],[8.3,6.2],[8.4,6.25],[8.5,6.5],[8.6,6.45],[8.7,6.5],[8.8,6.55],[8.95,6.55],[9.05,6.45],[8.2,6.4],[8.05,6.85],[7.95,7.05],[8,7.4],[8.05,7.15],[8.1,6.75],[8.45,6.65],[8.55,6.6]];

const x1Ticks=[3,4,5,6,7,8,9,10,11,12],x2Ticks=[2,3,4,5,6,7,8,9,10,11,12],x3Ticks=[6,7,8,9,10,11,12,13,14];
const nekTicks=[2,3,4,5,6,7,8,9,10,11,12],plkTicks=[4,5,6,7,8,9,10];
const panels=[
{d:e2f1Nek2.concat(e2f1Nek2Core),xn:'E2F1 RNAseq',yn:'NEK2 RNAseq',xt:x1Ticks,yt:nekTicks,g:[61,2,321,297],xr:[2.586,12.58],yr:[1.41,12.42],xg:32,xs:21,yg:40,ys:37},
{d:e2f1Plk4.concat(e2f1Plk4Core),xn:'E2F1 RNAseq',yn:'PLK4 RNAseq',xt:x1Ticks,yt:plkTicks,g:[478.5,1,321,297],xr:[2.58,12.57],yr:[4,10.87],xg:32,xs:16,yg:35.5,ys:41},
{d:e2f2Nek2.concat(e2f2Nek2Core),xn:'E2F2 RNAseq',yn:'NEK2 RNAseq',xt:x2Ticks,yt:nekTicks,g:[61,380,321,297],xr:[1.43,13.01],yr:[1.41,12.42],xg:32,xs:25,yg:32,ys:-19},
{d:e2f2Plk4.concat(e2f2Plk4Core),xn:'E2F2 RNAseq',yn:'PLK4 RNAseq',xt:x2Ticks,yt:plkTicks,g:[477.5,380.5,321,297],xr:[1.46,13.06],yr:[4,10.86],xg:30,xs:0,yg:28.5,ys:-6},
{d:e2f3Nek2.concat(e2f3Nek2Core),xn:'E2F3 RNAseq',yn:'NEK2 RNAseq',xt:x3Ticks,yt:nekTicks,g:[58.5,758.5,321,297],xr:[5.45,14.44],yr:[1.41,12.43],xg:31.5,xs:16,yg:30.5,ys:-4},
{d:e2f3Plk4.concat(e2f3Plk4Core),xn:'E2F3 RNAseq',yn:'PLK4 RNAseq',xt:x3Ticks,yt:plkTicks,g:[474.5,758.5,321,297],xr:[5.45,14.44],yr:[4,10.87],xg:31.5,xs:28,yg:31.5,ys:10}
];
const ink='#1c1c1c',frame='#8e8e8e',dot='#757575',font='"Liberation Sans",Arial,sans-serif';
function axis(name,ticks,r,gap,shift,vertical){
 return {type:'value',name,nameLocation:'middle',nameGap:gap,nameMoveOverlap:false,
  nameTextStyle:{fontFamily:font,fontWeight:'bold',fontSize:vertical?22.5:24,color:ink,
    padding:shift>0?[0,vertical?0:shift,0,vertical?shift:0]:[0,vertical?-shift:0,0,vertical?0:-shift]},
  min:r[0],max:r[1],splitLine:{show:false},
  axisLine:{show:true,onZero:false,lineStyle:{color:frame,width:1.5}},
  axisTick:{show:true,length:4,inside:false,customValues:ticks,lineStyle:{color:frame,width:1}},
  axisLabel:{customValues:ticks,fontFamily:font,fontWeight:'bold',fontSize:19,color:ink,margin:vertical?12:9}};
}
const chart=echarts.init(document.getElementById('c'),null,{renderer:'canvas'});
chart.setOption({animation:false,backgroundColor:'#fff',
 grid:panels.map(p=>({left:p.g[0],top:p.g[1],width:p.g[2],height:p.g[3],show:true,borderColor:frame,borderWidth:1.5,backgroundColor:'#fff'})),
 xAxis:panels.map((p,i)=>Object.assign(axis(p.xn,p.xt,p.xr,p.xg,p.xs,false),{gridIndex:i})),
 yAxis:panels.map((p,i)=>Object.assign(axis(p.yn,p.yt,p.yr,p.yg,p.ys,true),{gridIndex:i})),
 series:panels.map((p,i)=>({type:'scatter',xAxisIndex:i,yAxisIndex:i,data:p.d,symbolSize:4.8,silent:true,itemStyle:{color:dot,opacity:1}}))
});
</script></body></html>
